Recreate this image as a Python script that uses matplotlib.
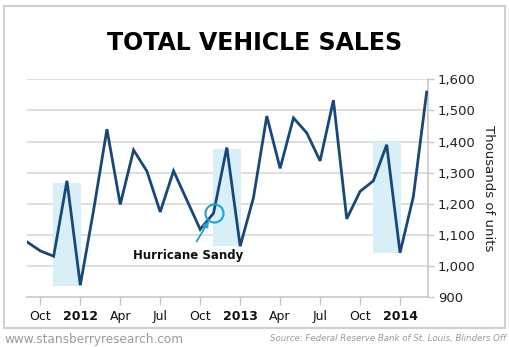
import matplotlib
matplotlib.use("Agg")
import matplotlib.pyplot as plt
from matplotlib.patches import Rectangle, Circle

months = ["2011-09", "2011-10", "2011-11", "2011-12", "2012-01", "2012-02", "2012-03",
          "2012-04", "2012-05", "2012-06", "2012-07", "2012-08", "2012-09", "2012-10",
          "2012-11", "2012-12", "2013-01", "2013-02", "2013-03", "2013-04", "2013-05",
          "2013-06", "2013-07", "2013-08", "2013-09", "2013-10", "2013-11", "2013-12",
          "2014-01", "2014-02", "2014-03"]
sales = [1078, 1049, 1032, 1274, 939, 1180, 1440, 1198, 1373, 1305, 1174, 1306, 1212,
         1118, 1170, 1381, 1064, 1220, 1482, 1314, 1476, 1428, 1338, 1533, 1152, 1240,
         1274, 1390, 1043, 1223, 1559]

tick_months = ["2011-10", "2012-01", "2012-04", "2012-07", "2012-10", "2013-01",
               "2013-04", "2013-07", "2013-10", "2014-01"]
tick_labels = ["Oct", "2012", "Apr", "Jul", "Oct", "2013", "Apr", "Jul", "Oct", "2014"]
y_ticks = [900, 1000, 1100, 1200, 1300, 1400, 1500, 1600]

# shaded boxes: (start month, end month, low, high)
shade_start = ["2011-11", "2012-11", "2013-11"]
shade_end = ["2012-01", "2013-01", "2014-01"]
shade_low = [936, 1064, 1041]
shade_high = [1266, 1375, 1400]

sandy_month = "2012-11"
sandy_value = 1170

W, H = 510, 347
fig = plt.figure(figsize=(W / 100, H / 100), dpi=100)

# outer frame
fig.patches.append(Rectangle((4.5 / W, 1 - 328 / H), 501 / W, 322 / H,
                             transform=fig.transFigure, fill=False,
                             edgecolor="#d0d0d0", linewidth=1.5))

ax = fig.add_axes([27 / W, 1 - 297.3 / H, 401 / W, 218 / H])
idx = {m: i for i, m in enumerate(months)}
x = list(range(len(months)))

for s, e, lo, hi in zip(shade_start, shade_end, shade_low, shade_high):
    ax.add_patch(Rectangle((idx[s] - 0.05, lo), idx[e] - idx[s] + 0.1, hi - lo,
                           facecolor="#d9eff8", edgecolor="none", zorder=1))

for v in y_ticks[1:]:
    ax.axhline(v, color="#dcdcdc", linewidth=1.3, zorder=0)

ax.plot(x, sales, color="#18487a", linewidth=2, zorder=3, solid_joinstyle="miter")

ax.set_xlim(0, 30.1)
ax.set_ylim(900, 1600)

# Hurricane Sandy marker
cx = idx[sandy_month]
ax.plot([cx], [sandy_value], marker="o", markersize=13, markerfacecolor="none",
        markeredgecolor="#1aa3d9", markeredgewidth=1.5, zorder=4)
ax.annotate("Hurricane Sandy", xy=(cx - 0.35, sandy_value - 25),
            xytext=(cx - 1.9, 1034), ha="center", va="center",
            fontsize=8.5, fontweight="bold", color="#111111",
            arrowprops=dict(arrowstyle="-|>", color="#1aa3d9", lw=1.3,
                            mutation_scale=8, shrinkA=4, shrinkB=0), zorder=5)

for sp in ["top", "left"]:
    ax.spines[sp].set_visible(False)
for sp in ["bottom", "right"]:
    ax.spines[sp].set_color("#c8c8c8")
    ax.spines[sp].set_linewidth(1.2)

ax.set_xticks([idx[m] for m in tick_months])
ax.set_xticklabels(tick_labels)
for lbl in ax.get_xticklabels():
    if lbl.get_text().isdigit():
        lbl.set_fontweight("bold")
ax.tick_params(axis="x", direction="out", length=6, width=1, color="#c8c8c8",
               labelsize=9, labelcolor="#111111", pad=3)

ax.yaxis.tick_right()
ax.set_yticks(y_ticks)
ax.set_yticklabels([f"{v:,}" for v in y_ticks])
ax.tick_params(axis="y", direction="out", length=4, width=1, color="#c8c8c8",
               labelsize=9.5, labelcolor="#222222", pad=3)
ax.yaxis.set_label_position("right")
ax.set_ylabel("Thousands of units", rotation=-90, fontsize=9.5, color="#222222",
              labelpad=14)

fig.text(255 / W, 1 - 43 / H, "TOTAL VEHICLE SALES", ha="center", va="center",
         fontsize=17, fontweight="heavy", color="#000000")

fig.text(4 / W, 1 - 339 / H, "www.stansberryresearch.com", ha="left", va="center",
         fontsize=8.7, color="#9a9a9a")
fig.text(506 / W, 1 - 339 / H, "Source: Federal Reserve Bank of St. Louis, Blinders Off",
         ha="right", va="center", fontsize=6.2, style="italic", color="#9a9a9a")

fig.savefig("out.png", dpi=100)
